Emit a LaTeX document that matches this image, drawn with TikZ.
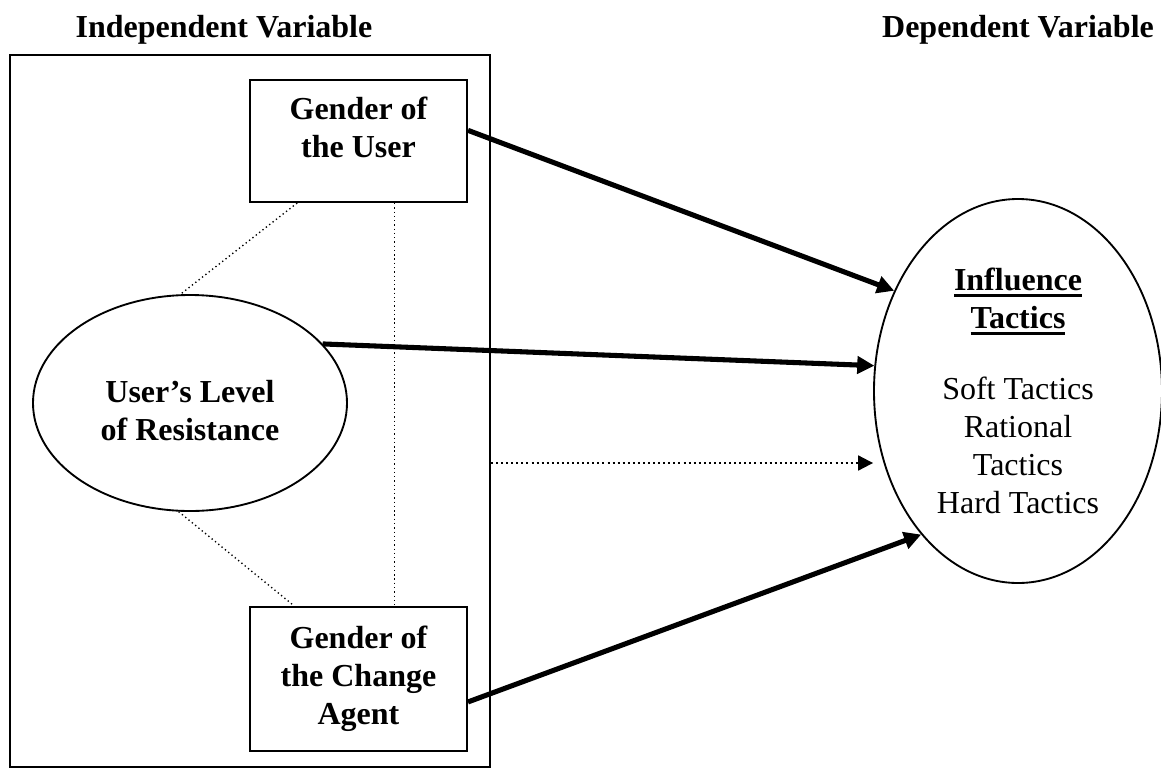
\documentclass[tikz,border=0pt]{standalone}
\usepackage{fontspec}
\setmainfont{Liberation Serif}
\usetikzlibrary{arrows.meta,positioning,shapes.geometric,calc}
\newsavebox\ulbox
\newcommand\ulword[1]{\sbox\ulbox{#1}\rlap{\rule[-2.4pt]{\wd\ulbox}{1pt}}\usebox\ulbox}

\begin{document}
\begin{tikzpicture}[x=0.375pt,y=-0.375pt,
  every node/.style={font=\fontsize{12}{14.25}\selectfont\bfseries,align=center},
  box/.style={draw,line width=0.75pt,inner sep=0pt,minimum width=81.4pt},
  oval/.style={draw,ellipse,line width=0.7pt,inner sep=0pt},
  arrow/.style={-{Triangle[length=6.4pt,width=6.4pt]},line width=1.9pt},
  dotarrow/.style={-{Triangle[length=5.6pt,width=5.6pt]},line width=0.75pt,dash pattern=on 0.75pt off 1.15pt},
  dotline/.style={line width=0.5pt,dash pattern=on 0.5pt off 1.1pt}]
\useasboundingbox (0,0) rectangle (1161,772);
\node[anchor=base] (ivtitle) at (224,37) {Independent Variable};
\node[anchor=base] (dvtitle) at (1018,37) {Dependent Variable};
\node[box,minimum width=180pt,minimum height=267pt] (ivframe) at (250,411) {};
\node[box,minimum height=45.75pt] (ugender) at (358.5,141) {Gender of\\the User\\[-4pt]\mbox{}};
\node[box,minimum height=54pt] (agentgender) at (358.5,679) {Gender of\\the Change\\Agent};
\node[oval,minimum width=117.75pt,minimum height=81pt] (resist) at (190,403) {\mbox{}\\User's Level\\of Resistance};
\node[oval,minimum width=108pt,minimum height=144pt,font=\fontsize{12}{14.25}\selectfont] (infl) at (1018,391)
  {\textbf{\ulword{Influence}}\\\textbf{\ulword{Tactics}}\\[12.4pt]Soft Tactics\\Rational\\Tactics\\Hard Tactics};
% dotted links inside the frame
\coordinate (vtop) at ($(ugender.south west)!0.664!(ugender.south east)$);
\coordinate (dotrow) at (0,463);
\draw[dotline] ($(ugender.south west)!0.22!(ugender.south east)$) -- (resist.95.2);
\draw[dotline] (vtop) -- (vtop |- agentgender.north);
\draw[dotline] (resist.264.8) -- ($(agentgender.north west)!0.207!(agentgender.north east)$);
% effects on the dependent variable
\draw[arrow] ([yshift=4pt]ugender.east) -- (infl.141.5);
\draw[arrow] (resist.24.4) -- (infl.170.6);
\draw[dotarrow] (ivframe.east |- dotrow) -- (infl.west |- dotrow);
\draw[arrow] ([yshift=-8.6pt]agentgender.east) -- (infl.236.3);
\end{tikzpicture}
\end{document}
